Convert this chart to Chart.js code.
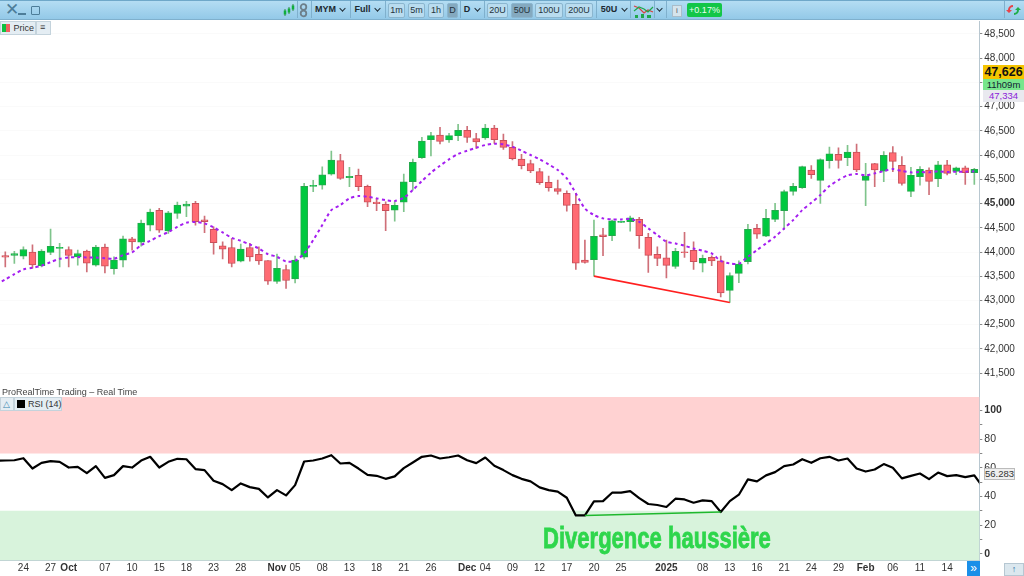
<!DOCTYPE html>
<html>
<head>
<meta charset="utf-8">
<script src="https://cdn.jsdelivr.net/npm/chart.js@4/dist/chart.umd.js"></script>
<style>
  html, body { margin: 0; padding: 0; background: #fff; width: 1024px; height: 576px; overflow: hidden; font-family: "Liberation Sans", sans-serif; color: #222; }
  canvas { position: absolute; left: 0; }
  .a { position: absolute; white-space: nowrap; }
  #toolbar { position: absolute; left: 0; top: 0; width: 1024px; height: 20px; background: linear-gradient(#b4ddf3, #93c9e8); border-top: 1px solid #6fa8c9; box-sizing: border-box; border-bottom: 1px solid #7fb0cd; }
  .tool { top: 3px; height: 13px; line-height: 13px; font-size: 9px; font-weight: bold; color: #1c2830; text-align: center; }
  .btn { top: 3px; height: 13px; line-height: 13px; font-size: 9px; color: #26343d; text-align: center; background: #b9dcef; border: 1px solid #8bb6cf; box-sizing: content-box; border-radius: 2px; }
  .btn.on { background: #84a9bf; }
  .chev { top: 6px; width: 4px; height: 4px; border-right: 1.3px solid #1c2830; border-bottom: 1.3px solid #1c2830; transform: rotate(45deg) scale(.9); }
  .sep { top: 1px; width: 1px; height: 17px; background: #7fb0cd; }
  .chip { background: #e4edf3; border: 1px solid #c4d3dc; box-sizing: border-box; font-size: 9px; line-height: 12px; color: #333; }
  .badge { left: 983px; width: 41px; text-align: center; font-size: 9.5px; }
</style>
</head>
<body>
<canvas id="priceChart"></canvas>
<canvas id="rsiChart"></canvas>

<div id="toolbar"></div>
<div class="a" style="left:5px;top:1px;font-size:17px;line-height:18px;color:#4d7d99">&#10005;</div>
<div class="a" style="left:18px;top:13px;width:8px;height:2px;background:#4d7d99"></div>
<div class="a" style="left:31px;top:6px;width:7px;height:7px;border:1.3px solid #4d7d99;border-radius:1px"></div>

<svg class="a" style="left:283px;top:3px" width="12" height="14"><path d="M2 6v7M6 4v7M10 1v7" stroke="#3a8a4a" stroke-width="1"/><path d="M2 7.500v4M6 5.500v4M10 2.500v4" stroke="#0fae3c" stroke-width="2.500"/></svg>
<div class="a sep" style="left:297px"></div>
<svg class="a" style="left:299px;top:3px" width="9" height="15"><circle cx="4.500" cy="4" r="2.800" fill="none" stroke="#6d7f8a" stroke-width="1.800"/><circle cx="4.500" cy="10.500" r="2.800" fill="none" stroke="#6d7f8a" stroke-width="1.800"/></svg>
<div class="a sep" style="left:311px"></div>
<div class="a tool" style="left:315px;width:19px">MYM</div>
<div class="a chev" style="left:340px"></div>
<div class="a sep" style="left:350px"></div>
<div class="a tool" style="left:354px;width:17px">Full</div>
<div class="a chev" style="left:375px"></div>
<div class="a sep" style="left:385px"></div>
<div class="a btn" style="left:388px;width:15px">1m</div>
<div class="a btn" style="left:408px;width:15px">5m</div>
<div class="a btn" style="left:428px;width:14px">1h</div>
<div class="a btn on" style="left:447px;width:9px">D</div>
<div class="a sep" style="left:460px"></div>
<div class="a tool" style="left:463px;width:8px">D</div>
<div class="a chev" style="left:475px"></div>
<div class="a sep" style="left:484px"></div>
<div class="a btn" style="left:487px;width:19px">20U</div>
<div class="a btn on" style="left:511px;width:20px">50U</div>
<div class="a btn" style="left:535px;width:26px">100U</div>
<div class="a btn" style="left:565px;width:26px">200U</div>
<div class="a sep" style="left:596px"></div>
<div class="a tool" style="left:600px;width:18px">50U</div>
<div class="a chev" style="left:622px"></div>
<div class="a sep" style="left:630px"></div>
<svg class="a" style="left:633px;top:2px" width="21" height="17"><path d="M1 4l5 2 5 5 4-3 5 2" fill="none" stroke="#d9423f" stroke-width="1.200"/><path d="M1 9l5-4 5 2 4 3 5-5" fill="none" stroke="#1fa84a" stroke-width="1.200"/><path d="M2 13h3v3H2zM8 12h3v4H8zM14 13h4v3h-4z" fill="#1fa84a"/></svg>
<div class="a sep" style="left:654px"></div>
<div class="a chev" style="left:657px"></div>
<div class="a sep" style="left:666px"></div>
<div class="a" style="left:672px;top:5px;width:8px;height:10px;background:#d5e4ec;border:1px solid #a9bdca;font-size:8px;line-height:10px;text-align:center;color:#556">i</div>
<div class="a" style="left:687px;top:3px;width:35px;height:14px;line-height:14px;background:#12c648;color:#eafff0;font-size:9px;text-align:center;border-radius:2px">+0.17%</div>
<div class="a sep" style="left:1004px;top:1px"></div>
<svg class="a" style="left:1006px;top:3px" width="15" height="14"><path d="M7 2a5 5 0 0 0-5 5h-2l3 3 3-3H4a3 3 0 0 1 3-3z" fill="#e8434a"/><path d="M8 12a5 5 0 0 0 5-5h2l-3-3-3 3h2a3 3 0 0 1-3 3z" fill="#1fae4a"/></svg>

<div class="a chip" style="left:0;top:21px;width:36px;height:14px;padding-left:12.500px">Price</div>
<div class="a" style="left:2px;top:24px;width:4px;height:8px;background:#0fc040"></div>
<div class="a" style="left:6px;top:24px;width:4px;height:8px;background:#f0605e"></div>
<div class="a chip" style="left:36px;top:21px;width:15px;height:14px;font-size:9px;line-height:11px;padding-left:3px;font-weight:bold">&#8801;</div>

<div class="a" style="left:2px;top:386px;font-size:9px;line-height:12px;color:#444">ProRealTime Trading &#8211; Real Time</div>
<div class="a chip" style="left:0;top:397px;width:14px;height:14px;padding-left:2px;color:#3b87b0">&#9651;</div>
<div class="a chip" style="left:14px;top:397px;width:48px;height:14px;padding-left:13px">RSI (14)</div>
<div class="a" style="left:17px;top:400px;width:8px;height:8px;background:#000"></div>

<div class="a" style="left:543px;top:520px;font-weight:bold;font-size:29px;line-height:36px;color:#2ed64c;-webkit-text-stroke:.8px #2ed64c;transform:scaleX(.76);transform-origin:left center">Divergence haussi&#232;re</div>

<div class="a badge" style="top:65px;height:14px;line-height:14px;background:#f5c400;font-weight:bold;font-size:12.500px;color:#111">47,626</div>
<div class="a badge" style="top:79px;height:11px;line-height:11px;background:#78e68c;color:#123">11h09m</div>
<div class="a badge" style="top:90px;height:12px;line-height:12px;background:#e9e9ef;color:#8a22d8">47,334</div>
<div class="a" style="left:984px;top:468px;width:29px;height:10px;line-height:10px;background:#efefef;border:1px solid #bbb;font-size:9.500px;text-align:center;color:#333">56.283</div>
<div class="a" style="left:967px;top:561px;width:13px;height:15px;line-height:14px;background:#1a8fe8;color:#fff;font-size:12px;text-align:center">&#187;</div>
<div class="a" style="left:1004px;top:563px;width:20px;height:13px;background:#dbe7ee;border:1px solid #b6c7d2;box-sizing:border-box;text-align:center;font-size:9px;line-height:11px;color:#2a76a8">&#8593;</div>

<script>
// MYM daily
var dates = [
  '', '', '24', '', '', '27', '', 'Oct', '', '', '', '07', '', '', '10', '', '', '15', '', '', '18', '', '', '23', '', '', '28',
  '', '', '', 'Nov', '', '05', '', '', '08', '', '', '13', '', '', '18', '', '', '21', '', '', '26', '', '', '', 'Dec', '', '04',
  '', '', '09', '', '', '12', '', '', '17', '', '', '20', '', '', '25', '', '', '', '', '2025', '', '', '', '08', '', '', '13',
  '', '', '16', '', '', '21', '', '', '24', '', '', '29', '', '', 'Feb', '', '', '06', '', '', '11', '', '', '14', '', '', ''
];
var boldDates = ['Oct', 'Nov', 'Dec', '2025', 'Feb'];
var priceTicks = [41500, 42000, 42500, 43000, 43500, 44000, 44500, 45000, 45500, 46000, 46500, 47000, 47500, 48000, 48500];
var rsiTicks = [0, 10, 20, 30, 40, 50, 60, 70, 80, 90, 100];

var opens = [
  43929, 43929, 43915, 43998, 43716, 43991, 44074, 44053, 43901, 44019, 43729, 44101, 43654, 43833, 44273, 44205, 44556, 44859,
  44438, 44797, 44948, 45003, 44666, 44466, 44129, 44094, 43812, 44094, 43950, 43826, 43392, 43640, 43447, 43895, 45354, 45382,
  45609, 45885, 45534, 45582, 45355, 45031, 44983, 44866, 45031, 45451, 45947, 46319, 46415, 46312, 46401, 46511, 46339, 46353,
  46560, 46305, 46160, 45919, 45823, 45658, 45437, 45307, 45210, 44983, 43833, 43840, 44356, 44336, 44611, 44625, 44673, 44301,
  43950, 43881, 43702, 43998, 44033, 43771, 43888, 43819, 43207, 43558, 43799, 44487, 44329, 44673, 44852, 45251, 45327, 45692,
  45479, 45885, 46016, 45947, 46064, 45479, 45823, 45671, 46050, 45789, 45251, 45554, 45692, 45513, 45802, 45665, 45740, 45637
];
var closes = [
  43895, 43970, 44053, 43736, 44019, 44115, 44094, 43929, 43970, 43771, 44101, 43709, 43833, 44273, 44211, 44597, 44824, 44452,
  44810, 44969, 44989, 44624, 44624, 44191, 44060, 43764, 44060, 43901, 43819, 43399, 43661, 43413, 43833, 45354, 45375, 45595,
  45898, 45520, 45561, 45348, 45031, 44997, 44852, 44962, 45451, 45851, 46291, 46401, 46284, 46401, 46511, 46367, 46270, 46560,
  46319, 46160, 45926, 45782, 45672, 45431, 45327, 45251, 44962, 43771, 43785, 44322, 44315, 44646, 44625, 44708, 44336, 43930,
  43868, 43723, 44012, 43985, 43799, 43868, 43819, 43158, 43516, 43751, 44467, 44370, 44694, 44859, 45245, 45355, 45761, 45596,
  45906, 46029, 45892, 46064, 45692, 45568, 45692, 45995, 45871, 45417, 45582, 45706, 45458, 45802, 45623, 45740, 45637, 45706
];
var highs = [
  44005, 44012, 44108, 44150, 44053, 44473, 44177, 44108, 44039, 44039, 44136, 44163, 43901, 44328, 44301, 44659, 44886, 44900,
  44838, 45031, 45044, 45044, 44741, 44521, 44211, 44280, 44163, 44177, 44108, 43826, 43957, 43729, 43915, 45416, 45478, 45760,
  46084, 46016, 45747, 45713, 45382, 45107, 45038, 45038, 45610, 45919, 46367, 46470, 46573, 46449, 46635, 46594, 46449, 46635,
  46615, 46436, 46277, 46016, 45899, 45727, 45568, 45486, 45265, 45210, 44246, 44659, 44487, 44659, 44625, 44742, 44714, 44384,
  44109, 44246, 44074, 44405, 44212, 43936, 43923, 43916, 43572, 43819, 44570, 44570, 44880, 45004, 45279, 45417, 45775, 45782,
  45926, 46167, 46153, 46202, 46229, 45830, 45830, 46071, 46174, 45968, 45747, 45761, 45740, 45871, 45892, 45754, 45775, 45727
];
var lows = [
  43695, 43764, 43860, 43667, 43695, 43943, 43695, 43695, 43729, 43592, 43709, 43571, 43543, 43695, 44039, 44122, 44438, 44404,
  44383, 44693, 44728, 44556, 44397, 43957, 43860, 43695, 43798, 43812, 43743, 43330, 43351, 43247, 43364, 43860, 45244, 45299,
  45588, 45499, 45348, 45265, 44935, 44852, 44439, 44639, 44832, 45279, 45933, 45981, 46229, 46264, 46298, 46264, 46140, 46326,
  46243, 46119, 45899, 45713, 45637, 45396, 45258, 45196, 44845, 43640, 43771, 43503, 43923, 44233, 44604, 44432, 44074, 43578,
  43716, 43468, 43661, 43888, 43640, 43592, 43716, 43076, 42959, 43365, 43757, 44281, 44315, 44625, 44467, 45176, 45313, 45520,
  45004, 45733, 45733, 45782, 45658, 44955, 45348, 45451, 45658, 45382, 45141, 45382, 45183, 45348, 45589, 45596, 45396, 45396
];
var ma50 = [
  43433, 43543, 43640, 43674, 43716, 43791, 43860, 43888, 43895, 43888, 43888, 43874, 43860, 43936, 43991, 44143, 44232, 44328,
  44411, 44521, 44604, 44618, 44590, 44507, 44404, 44294, 44232, 44156, 44074, 43957, 43901, 43805, 43819, 43970, 44246, 44556,
  44865, 44969, 45107, 45155, 45141, 45107, 45072, 45052, 45121, 45279, 45465, 45637, 45782, 45912, 46023, 46091, 46153, 46208,
  46236, 46222, 46174, 46091, 46002, 45912, 45809, 45692, 45520, 45210, 44900, 44763, 44694, 44673, 44673, 44680, 44625, 44487,
  44350, 44212, 44177, 44129, 44074, 44026, 43971, 43819, 43764, 43757, 43902, 44040, 44177, 44315, 44487, 44659, 44866, 45017,
  45176, 45362, 45486, 45582, 45610, 45582, 45623, 45671, 45713, 45671, 45644, 45651, 45644, 45665, 45651, 45658, 45658, 45665
];
var rsi14 = [
  65.1, 65.3, 66.7, 59.5, 63.5, 64.7, 64.2, 60.2, 60.7, 56.3, 61.2, 53.0, 54.9, 61.2, 60.2, 65.1, 67.7, 60.2,
  64.2, 66.3, 66.0, 59.1, 58.4, 50.9, 48.6, 44.4, 49.1, 46.5, 45.3, 39.3, 44.4, 40.7, 47.9, 64.4, 65.1, 66.5,
  68.8, 63.0, 63.5, 59.5, 55.1, 54.4, 52.3, 54.0, 59.8, 63.7, 67.7, 68.6, 66.5, 67.4, 68.6, 65.3, 63.3, 67.2,
  61.4, 58.4, 54.9, 52.3, 50.5, 46.3, 44.4, 43.3, 39.1, 26.7, 26.7, 36.5, 36.7, 42.6, 42.6, 43.7, 38.8, 34.7,
  34.0, 32.6, 38.4, 37.9, 35.6, 37.2, 36.7, 29.1, 36.7, 41.2, 51.9, 50.5, 54.7, 57.0, 61.2, 62.3, 66.0, 63.5,
  66.7, 67.7, 65.1, 66.5, 59.5, 57.4, 58.8, 62.6, 60.0, 52.6, 54.4, 56.0, 52.1, 56.7, 54.2, 54.9, 53.5, 54.7, 46.0
];
// the bar just left of the window, both lines run in from it
var ma50Before = 43330;
var rsiBefore = 65.0;

// hand drawn lines of the divergence
var priceTrend = [{ x: 65, y: 43503 }, { x: 80, y: 42959 }];
var rsiTrend = [{ x: 64, y: 26.7 }, { x: 79, y: 29.1 }];
var overbought = 70;
var oversold = 30;

var GREEN = '#00c93f', GREEN_EDGE = '#25a84c', GREEN_WICK = '#7fc48c';
var RED = '#ff6b73', RED_EDGE = '#c9505a', RED_WICK = '#cf6f78';
var AXIS = '#b8c7d0';
var X_MIN = -0.585, X_MAX = 107.55;

Chart.defaults.animation = false;
Chart.defaults.responsive = false;
Chart.defaults.font.family = 'Liberation Sans';

function isUp(i) { return closes[i] >= opens[i]; }

function withBefore(before, values) {
  var out = [{ x: -1, y: before }];
  values.forEach(function(v, i) { out.push({ x: i, y: v }); });
  return out;
}

function candleColors(up, down) {
  return opens.map(function(o, i) { return isUp(i) ? up : down; });
}

function useTicks(values) {
  return function(scale) {
    scale.ticks = values.map(function(v) { return { value: v }; });
  };
}

function fixAxis(width) {
  return function(scale) {
    scale.width = width;
    scale.paddingTop = 0;
    scale.paddingBottom = 0;
  };
}

function setupCanvas(id, top, height) {
  var el = document.getElementById(id);
  el.width = 1024;
  el.height = height;
  el.style.top = top + 'px';
  el.style.width = '1024px';
  el.style.height = height + 'px';
  return el;
}

var noPlugins = { legend: { display: false }, tooltip: { enabled: false } };
var noPadding = { left: 0, right: 0, top: 0, bottom: 0 };

new Chart(setupCanvas('priceChart', 21, 376), {
  type: 'bar',
  data: {
    datasets: [
      {
        label: 'Divergence',
        type: 'line',
        order: 0,
        data: priceTrend,
        borderColor: '#ff1f1f',
        borderWidth: 1.6,
        pointRadius: 0
      },
      {
        label: 'MA 50',
        type: 'line',
        order: 1,
        data: withBefore(ma50Before, ma50),
        borderColor: '#a41ef0',
        borderWidth: 2,
        borderDash: [3, 3.2],
        tension: 0.25,
        pointRadius: 0
      },
      {
        label: 'Body',
        order: 2,
        data: opens.map(function(o, i) { return { x: i, y: [o, closes[i]] }; }),
        backgroundColor: candleColors(GREEN, RED),
        borderColor: candleColors(GREEN_EDGE, RED_EDGE),
        borderWidth: 1,
        borderSkipped: false,
        barThickness: 7,
        minBarLength: 1,
        grouped: false
      },
      {
        label: 'Wick',
        order: 3,
        data: lows.map(function(l, i) { return { x: i, y: [l, highs[i]] }; }),
        backgroundColor: candleColors(GREEN_WICK, RED_WICK),
        barThickness: 1,
        grouped: false
      }
    ]
  },
  options: {
    layout: { padding: noPadding },
    plugins: noPlugins,
    scales: {
      x: { type: 'linear', display: false, offset: false, min: X_MIN, max: X_MAX, grid: { display: false } },
      y: {
        position: 'right',
        min: 41008,
        max: 48768,
        afterBuildTicks: useTicks(priceTicks),
        afterFit: fixAxis(44.7),
        border: { color: AXIS },
        grid: { color: '#fafafa', tickColor: '#888', tickLength: 3 },
        ticks: {
          autoSkip: false,
          padding: 2,
          color: '#333',
          font: function(ctx) {
            return { size: 10, weight: ctx.tick && ctx.tick.value === 45000 ? 'bold' : 'normal' };
          },
          callback: function(v) { return v.toLocaleString('en-US'); }
        }
      }
    }
  }
});

// overbought / oversold zones behind the RSI line
var zonesPlugin = {
  id: 'zones',
  beforeDatasetsDraw: function(chart) {
    var a = chart.chartArea, y = chart.scales.y, c = chart.ctx;
    c.save();
    c.fillStyle = '#ffd2d2';
    c.fillRect(a.left, a.top, a.width, y.getPixelForValue(overbought) - a.top);
    c.fillStyle = '#d8f3dc';
    c.fillRect(a.left, y.getPixelForValue(oversold), a.width, a.bottom - y.getPixelForValue(oversold));
    c.restore();
  }
};

var dateTicks = [];
dates.forEach(function(d, i) { if (d) dateTicks.push(i); });

new Chart(setupCanvas('rsiChart', 397, 179), {
  type: 'line',
  data: {
    datasets: [
      {
        label: 'Divergence',
        order: 0,
        data: rsiTrend,
        borderColor: '#1fb82e',
        borderWidth: 1.4,
        pointRadius: 0
      },
      {
        label: 'RSI (14)',
        order: 1,
        data: withBefore(rsiBefore, rsi14),
        borderColor: '#000',
        borderWidth: 2.2,
        borderJoinStyle: 'round',
        pointRadius: 0
      }
    ]
  },
  options: {
    layout: { padding: noPadding },
    plugins: noPlugins,
    scales: {
      x: {
        type: 'linear',
        min: X_MIN,
        max: X_MAX,
        afterBuildTicks: useTicks(dateTicks),
        afterFit: function(scale) {
          scale.height = 15.7;
          scale.paddingLeft = 0;
          scale.paddingRight = 0;
        },
        border: { color: AXIS },
        grid: { display: false, drawTicks: false, tickLength: 0 },
        ticks: {
          autoSkip: false,
          maxRotation: 0,
          minRotation: 0,
          padding: 2,
          color: '#333',
          font: function(ctx) {
            return { size: 10, weight: ctx.tick && boldDates.indexOf(ctx.tick.label) >= 0 ? 'bold' : 'normal' };
          },
          callback: function(v) { return dates[v]; }
        }
      },
      y: {
        position: 'right',
        min: -4.65,
        max: 109.5,
        afterBuildTicks: useTicks(rsiTicks),
        afterFit: fixAxis(44.7),
        border: { color: AXIS },
        grid: { drawOnChartArea: false, tickColor: '#888', tickLength: 3 },
        ticks: {
          autoSkip: false,
          padding: 2,
          color: '#333',
          font: function(ctx) {
            var v = ctx.tick && ctx.tick.value;
            return { size: 10.5, weight: v === 100 || v === 0 ? 'bold' : 'normal' };
          },
          callback: function(v) { return v % 20 === 0 ? String(v) : ''; }
        }
      }
    }
  },
  plugins: [zonesPlugin]
});
</script>
</body>
</html>
